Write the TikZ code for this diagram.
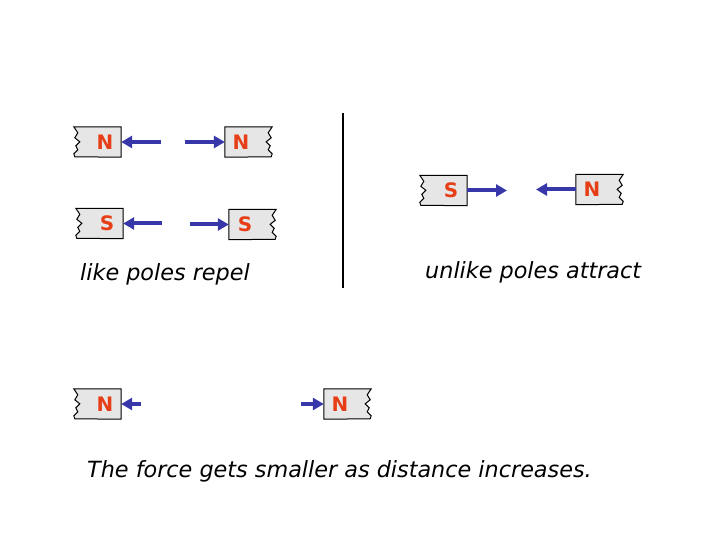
\documentclass[tikz,border=0pt]{standalone}
\usepackage{fontspec}
\usetikzlibrary{arrows.meta,backgrounds}
\newfontfamily\capfont{DejaVu Sans}[UprightFont=* Bold]
\newfontfamily\labfont{DejaVu Sans}[UprightFont=*-Oblique]
\definecolor{polered}{RGB}{230,62,22}
\definecolor{forceblue}{RGB}{55,55,170}
\definecolor{magfill}{RGB}{230,230,230}
\tikzset{
  magnet/.style={minimum width=32bp, minimum height=30bp, inner sep=0pt, text=polered, font=\capfont\fontsize{20}{20}\selectfont},
  force/.style={draw=forceblue, line width=4bp, -{Triangle[length=11bp,width=12bp]}},
  magline/.style={draw=black, line width=1bp, fill=magfill},
  lab/.style={anchor=base west, inner sep=0pt, font=\labfont\fontsize{22.4}{22.4}\selectfont}
}
\newcommand{\tornleft}[1]{%
  \path[magline] (#1.north east) -- ([xshift=-15bp]#1.north west) -- ++(4,6) -- ++(-3,5) -- ++(5,4) -- ++(-4,4) -- ++(2,4) -- ++(-4,4) -- ++(1,3) -- (#1.south east) -- cycle;}
\newcommand{\tornright}[1]{%
  \path[magline] (#1.north west) -- ([xshift=15bp]#1.north east) -- ++(-4,6) -- ++(3,5) -- ++(-5,4) -- ++(4,4) -- ++(-2,4) -- ++(4,4) -- ++(-1,3) -- (#1.south west) -- cycle;}
\begin{document}
\begin{tikzpicture}[x=1bp,y=-1bp]
\useasboundingbox (0,0) rectangle (720,540);
% magnets
\node[magnet] (m1) at (105,142) {N};
\node[magnet] (m2) at (241,142) {N};
\node[magnet] (m3) at (107,223.5) {S};
\node[magnet] (m4) at (245,224.5) {S};
\node[magnet] (m5) at (451,190.5) {S};
\node[magnet] (m6) at (592,189.5) {N};
\node[magnet] (m7) at (105,404) {N};
\node[magnet] (m8) at (340,404) {N};
\begin{scope}[on background layer]
  \tornleft{m1}
  \tornright{m2}
  \tornleft{m3}
  \tornright{m4}
  \tornleft{m5}
  \tornright{m6}
  \tornleft{m7}
  \tornright{m8}
\end{scope}
% free arrow ends
\coordinate (a1) at (161,142);
\coordinate (a2) at (185,142);
\coordinate (a3) at (162,223.5);
\coordinate (a4) at (190,224.5);
\coordinate (a5) at (507,190.5);
\coordinate (a6) at (536,189.5);
\coordinate (a7) at (141,404);
\coordinate (a8) at (301,404);
\draw[force] (a1) -- (m1.east);
\draw[force] (a2) -- (m2.west);
\draw[force] (a3) -- (m3.east);
\draw[force] (a4) -- (m4.west);
\draw[force] (m5.east) -- (a5);
\draw[force] (m6.west) -- (a6);
\draw[force] (a7) -- (m7.east);
\draw[force] (a8) -- (m8.west);
% divider
\coordinate (d1) at (343,113);
\coordinate (d2) at (343,288);
\draw[line width=1.3bp] (d1) -- (d2);
% labels
\node[lab] (t1) at (80,281) {like poles repel};
\node[lab] (t2) at (425,279) {unlike poles attract};
\node[lab] (t3) at (87,477) {The force gets smaller as distance increases.};
\end{tikzpicture}
\end{document}
